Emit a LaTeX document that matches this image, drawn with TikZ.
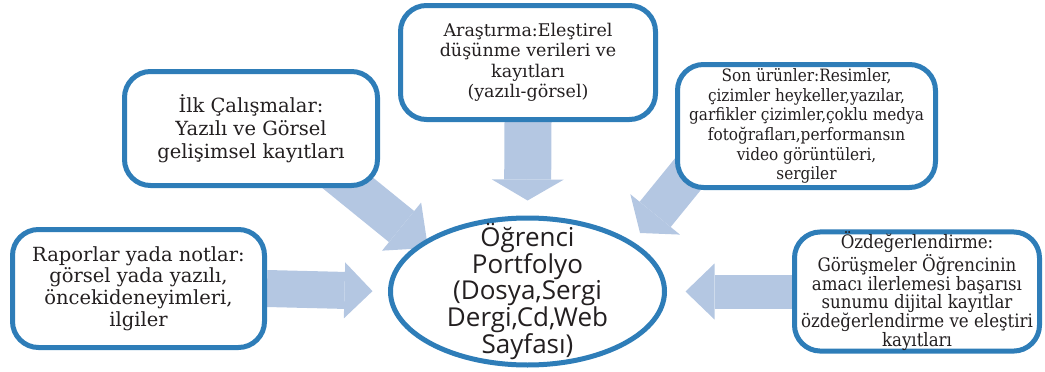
\documentclass[tikz,border=0pt]{standalone}
\usepackage{fontspec}
\setmainfont{DejaVu Serif}
\newfontfamily\darserif{DejaVu Serif Condensed}
\newfontfamily\portsans{Open Sans}
\usetikzlibrary{shapes.geometric,arrows.meta,backgrounds}
\definecolor{kenar}{RGB}{46,125,184}
\definecolor{okrenk}{RGB}{180,199,226}
\definecolor{yazi}{RGB}{35,31,32}
\tikzset{
    >=Stealth,
    kutu/.style={
        rectangle,
        rounded corners=26pt,
        draw=kenar,
        line width=5pt,
        fill=white,
        text=yazi,
        align=center,
        inner sep=0pt
    },
    merkez/.style={
        ellipse,
        draw=kenar,
        line width=5pt,
        fill=white,
        inner sep=0pt
    },
    portyazi/.style={
        text=yazi,
        align=center,
        font=\portsans\fontsize{26}{25.3}\selectfont
    },
    blokok/.style n args={3}{
        draw=okrenk,
        line width=#1,
        -{Triangle[width=#2, length=#3, line width=0pt]}
    }
}

\begin{document}
\begin{tikzpicture}[x=1pt, y=-1pt, font=\fontsize{19.5}{21.7}\selectfont]
\useasboundingbox (0,0) rectangle (1045,372);

% merkez
\node[merkez, minimum width=274pt, minimum height=147pt,
      label={[portyazi]center:{Öğrenci\\Portfolyo\\(Dosya,Sergi\\Dergi,Cd,Web\\Sayfası)}}]
    (port) at (527.5,291.5) {};

% kutular
\node[kutu, minimum width=252pt, minimum height=118pt] (rapor) at (138.5,288.5)
    {Raporlar yada notlar:\\görsel yada yazılı,\\öncekideneyimleri,\\ilgiler};
\node[kutu, minimum width=253pt, minimum height=114pt, font=\fontsize{19.5}{23}\selectfont]
    (ilk) at (251,128.5)
    {İlk Çalışmalar:\\Yazılı ve Görsel\\gelişimsel kayıtları};
\node[kutu, minimum width=255pt, minimum height=114pt, font=\fontsize{17.5}{20.5}\selectfont]
    (arastirma) at (528,62.5)
    {Araştırma:Eleştirel\\düşünme verileri ve\\kayıtları\\(yazılı-görsel)};
\node[kutu, minimum width=258pt, minimum height=123pt,
      font=\darserif\fontsize{17}{19.7}\selectfont]
    (urun) at (806.5,126)
    {Son ürünler:Resimler,\\çizimler heykeller,yazılar,\\garfikler çizimler,çoklu medya\\fotoğrafları,performansın\\video görüntüleri,\\sergiler};
\node[kutu, minimum width=245pt, minimum height=118pt,
      font=\darserif\fontsize{18.5}{17.9}\selectfont]
    (oz) at (917,291.5)
    {Özdeğerlendirme:\\Görüşmeler Öğrencinin\\amacı ilerlemesi başarısı\\sunumu dijital kayıtlar\\özdeğerlendirme ve eleştiri\\kayıtları};

\coordinate (u2) at (428,248);
\coordinate (u4) at (640,233);

% oklar
\begin{scope}[on background layer]
\draw[blokok={37pt}{56pt}{28pt}, shorten >=15.5pt] (rapor.east) -- (port.west);
\draw[blokok={40pt}{62pt}{34pt}, shorten <=-30pt] (ilk.-30) -- (u2);
\draw[blokok={47pt}{72pt}{21pt}, shorten >=15pt] (arastirma.south) -- (port.north);
\draw[blokok={40pt}{64pt}{24pt}, shorten <=-40pt] (urun.south west) -- (u4);
\draw[blokok={34pt}{56pt}{29pt}, shorten >=18.5pt] (oz.west) -- (port.east);
\end{scope}

\end{tikzpicture}
\end{document}
